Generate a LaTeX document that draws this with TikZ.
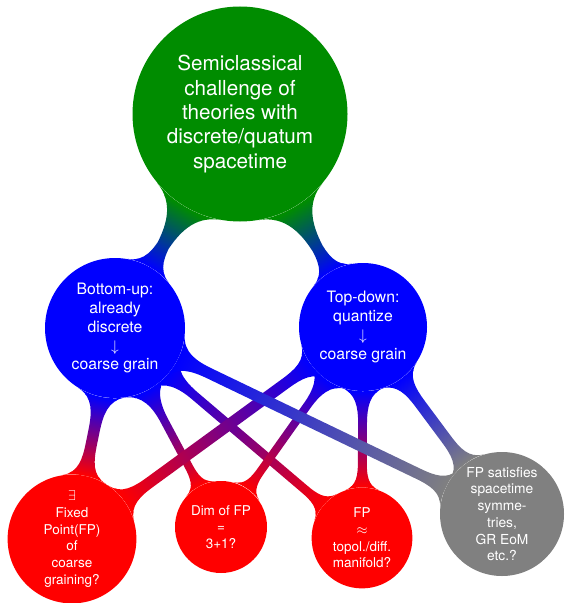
\documentclass[tikz,border=0pt]{standalone}
\usepackage{fontspec}
\setmainfont{TeX Gyre Heros}
\usetikzlibrary{mindmap}
\definecolor{rootgreen}{HTML}{008C00}
\definecolor{stepblue}{HTML}{0000FF}
\definecolor{askred}{HTML}{FF0000}
\definecolor{askgray}{HTML}{808080}
\tikzset{
  bubble/.style={circle, inner sep=1pt, align=center, text=white},
  rootnode/.style={bubble, fill=rootgreen, minimum size=5.375cm, font=\fontsize{14.7}{17.3}\selectfont},
  waynode/.style={bubble, fill=stepblue, font=\fontsize{11.2}{13.5}\selectfont},
  asknode/.style={bubble, fill=askred, font=\fontsize{9.6}{11.9}\selectfont},
  opennode/.style={bubble, fill=askgray, font=\fontsize{9.8}{11.9}\selectfont},
  linkbar/.style 2 args={circle connection bar switch color=from (#1) to (#2)}
}

\begin{document}
\begin{tikzpicture}[x=1cm,y=1cm]
  \useasboundingbox (0,0) rectangle (14.1,-15.075);

  \node[rootnode] (root) at (6.0,-2.85) {Semiclassical\\challenge of\\theories with\\discrete/quatum\\spacetime};

  \node[waynode, minimum size=3.5cm] (bottomup) at (2.875,-8.2) {Bottom-up:\\already\\discrete\\$\downarrow$\\coarse grain};
  \node[waynode, minimum size=3.2cm] (topdown) at (9.075,-8.175) {Top-down:\\quantize\\$\downarrow$\\coarse grain};

  \node[asknode, minimum size=3.22cm] (fixpt) at (1.8,-13.475) {$\exists$\\Fixed\\Point(FP)\\of\\coarse\\graining?};
  \node[asknode, minimum size=2.3cm] (dimfp) at (5.525,-13.175) {Dim of FP\\=\\3+1?};
  \node[asknode, minimum size=2.52cm] (manifold) at (9.05,-13.45) {FP\\$\approx$\\topol./diff.\\manifold?};
  \node[opennode, minimum size=3.1cm] (symm) at (12.55,-12.85) {FP satisfies\\spacetime\\symme-\\tries,\\GR EoM\\etc.?};

  % root to the two approaches
  \path (root) to[linkbar={rootgreen}{stepblue}] (bottomup);
  \path (root) to[linkbar={rootgreen}{stepblue}] (topdown);

  % questions
  \path (bottomup) to[linkbar={stepblue}{askred}] (fixpt);
  \path (bottomup) to[linkbar={stepblue}{askred}] (dimfp);
  \path (bottomup) to[linkbar={stepblue}{askred}] (manifold);
  \path (topdown) to[linkbar={stepblue}{askred}] (manifold);
  \path (topdown) to[linkbar={stepblue}{askgray}] (symm);
  \path (topdown) to[linkbar={stepblue}{askred}] (dimfp);
  \path (topdown) to[linkbar={stepblue}{askred}] (fixpt);
  \path (bottomup) to[linkbar={stepblue}{askgray}] (symm);
\end{tikzpicture}
\end{document}
